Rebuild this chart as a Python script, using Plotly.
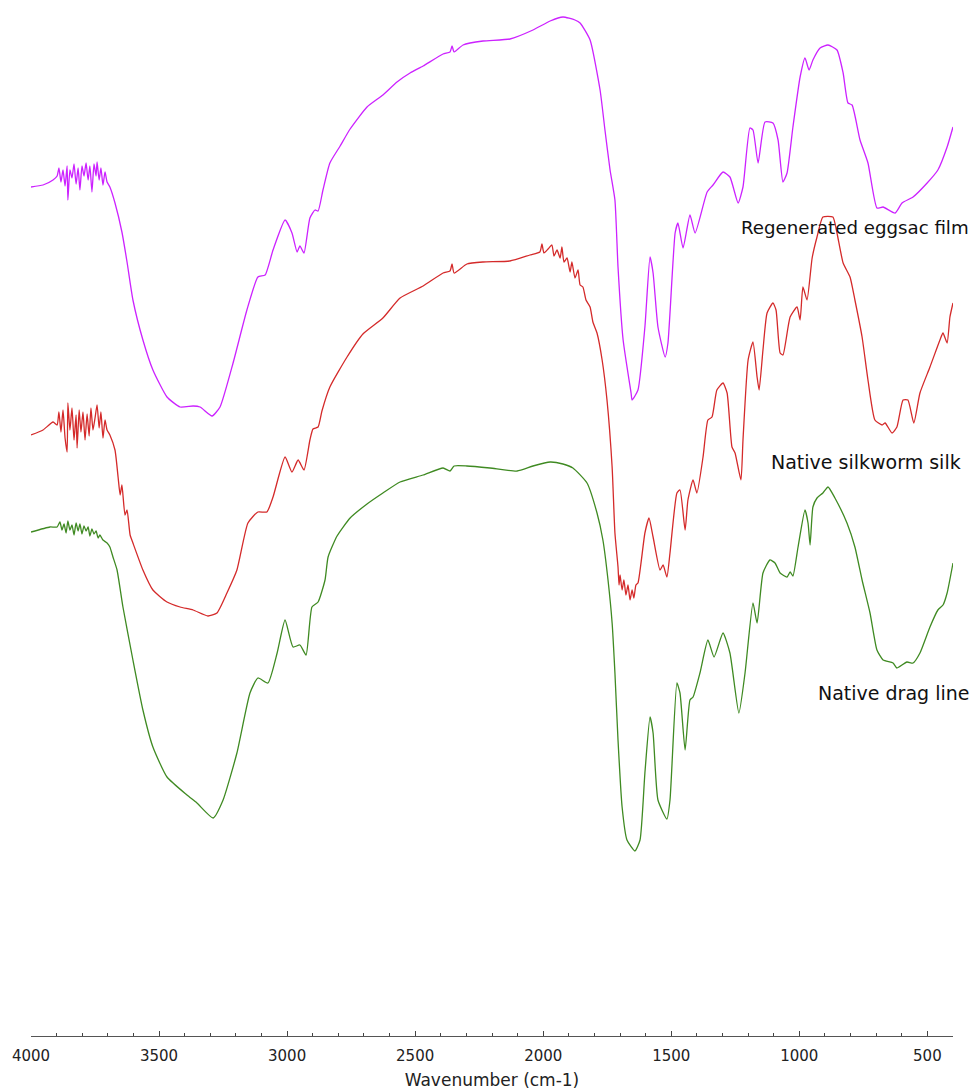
import plotly.graph_objects as go

# ---- Data (wavenumber in cm-1, transmittance in arbitrary offset units) ----
wn_eggsac = [4000,3953,3914,3898,3891,3883,3875,3867,3859,3856,3848,3840,3832,3824,3816,3809,3801,3793,3785,3777,3770,3762,3754,3746,3742,3734,3727,3719,3711,3703,3692,
             3672,3645,3625,3602,3563,3524,3469,3418,3367,3340,3293,3262,3211,3157,3114,3086,3055,3008,2981,2961,2950,2934,2911,2891,2879,2860,2833,
             2793,2754,2688,2626,2571,2520,2469,2391,2364,2356,2348,2313,2235,2130,2040,1973,1923,1876,1856,
             1817,1778,1759,1739,1720,
             1708,1688,1657,1653,1630,1603,1583,1571,1552,1524,1513,1485,1474,1454,1427,1407,
             1360,1337,1298,1271,1239,1220,1193,1181,1161,1134,1103,1083,1064,1048,1025,997,978,962,947,919,888,853,829,810,794,763,732,697,673,626,599,556,501,459,423,400]
t_eggsac = [84.9,85.1,85.6,86.0,86.8,85.4,86.6,85.0,87.0,83.6,86.6,85.8,87.2,85.2,86.8,84.6,87.0,86.0,87.3,85.6,87.0,84.4,87.2,86.0,87.4,85.6,86.8,85.1,86.4,85.4,84.9,
            83.3,80.4,77.4,73.6,69.6,66.6,63.9,62.9,63.0,62.9,62.0,62.9,67.3,72.6,75.9,76.1,78.6,81.6,80.3,78.4,79.0,78.3,81.8,82.6,82.5,84.6,87.3,
            89.0,90.7,92.9,94.1,95.4,96.3,97.0,98.2,98.4,99.0,98.4,99.1,99.5,99.7,100.6,101.5,101.9,101.6,101.3,
            99.6,94.6,90.6,86.6,83.6,
            76.9,69.6,64.3,63.6,64.6,70.9,77.9,76.3,70.9,67.9,69.3,80.3,81.3,78.8,82.1,80.3,
            84.4,85.1,86.4,85.9,83.3,84.9,90.8,90.6,87.3,91.4,91.3,89.6,85.4,86.3,90.9,95.9,97.8,96.6,97.6,98.8,99.1,98.6,96.3,93.3,93.1,89.6,87.3,82.8,82.9,82.3,83.3,83.9,85.3,86.6,88.9,90.9]

wn_silkworm = [4000,3953,3914,3898,3891,3883,3875,3867,3859,3856,3848,3840,3832,3824,3820,3812,3805,3797,3789,3781,3773,3766,3758,3750,3742,3734,3727,3719,3711,3703,3692,
               3672,3660,3652,3645,3633,3625,3613,3602,3563,3524,3469,3418,3367,3309,3274,3235,3196,3153,3114,3079,3055,3008,2981,2957,2934,2911,2899,2879,2864,2833,
               2766,2704,2626,2559,2469,2391,2364,2356,2348,2298,2235,2130,2052,
               2013,2005,1997,1981,1966,1958,1946,1934,1927,1919,1907,1895,1888,1876,1864,1856,1845,1833,1817,1806,1790,1770,1751,1731,1720,
               1708,1704,1700,1692,1685,1677,1669,1661,1653,1646,1638,1630,
               1603,1587,1571,1544,1532,1517,1505,1478,1466,1446,1435,1415,1400,1376,1357,1341,1322,1298,1282,1263,1251,1228,1220,
               1200,1181,1165,1157,1142,1126,1103,1091,1075,1064,1036,1009,997,986,970,950,931,908,869,853,829,802,783,755,732,705,677,665,638,619,595,576,553,529,490,451,439,423,412,400]
t_silkworm = [60.1,60.6,61.4,61.1,62.4,60.4,62.6,59.8,58.4,63.3,60.6,62.8,59.6,62.1,58.8,62.6,60.4,62.4,59.6,62.2,60.0,62.8,60.6,61.8,63.1,60.8,62.4,59.8,61.6,60.6,60.1,
              58.6,55.9,54.1,55.1,52.1,52.6,50.1,49.3,46.6,44.6,43.4,42.9,42.6,42.0,42.3,44.3,46.6,51.3,52.4,52.4,53.9,57.9,56.4,57.6,56.6,59.6,60.7,60.9,62.5,64.9,
              67.9,70.2,71.8,73.8,75.0,76.3,76.5,77.2,76.3,77.2,77.4,77.5,78.1,
              78.4,79.2,78.3,78.7,79.1,78.0,78.6,77.8,78.9,77.4,77.8,76.4,77.4,75.8,76.6,75.1,74.9,73.6,72.9,71.4,70.3,67.6,63.6,56.9,50.3,
              46.9,45.1,46.1,44.6,45.6,44.1,45.1,43.6,44.6,43.8,45.1,45.3,
              50.3,51.8,49.9,46.6,47.1,45.9,48.3,54.3,54.6,50.6,53.6,55.6,54.3,57.9,61.6,61.9,64.6,65.3,64.3,58.9,58.3,55.6,59.6,
              67.6,69.4,65.9,64.6,68.6,72.3,73.3,72.6,68.3,68.1,71.9,72.9,71.6,74.9,73.6,77.8,79.9,81.9,81.9,80.3,77.3,75.9,73.6,69.9,65.6,61.6,61.1,61.3,60.3,60.9,63.6,63.6,61.3,64.3,66.9,69.6,70.3,69.3,71.9,73.3]

wn_dragline = [4000,3926,3898,3887,3879,3871,3863,3856,3848,3840,3832,3824,3816,3809,3801,3793,3785,3777,3770,3762,3754,3746,3738,3731,3719,3703,
               3692,3680,3664,3641,3602,3563,3524,3469,3391,3352,3289,3250,3196,3145,3114,3075,3039,3008,2977,2950,2926,2903,2879,2852,2840,2805,
               2754,2688,2626,2559,2469,2391,2364,2348,2298,2208,2102,2040,1973,1923,1884,1829,1790,1767,1747,1731,1720,1708,1692,1673,1642,1622,
               1603,1583,1571,1552,1517,1505,1478,1466,1446,1427,1415,1388,1357,1333,1298,1271,1236,1212,1181,1165,1142,1115,1095,1075,1048,1036,1025,1005,
               978,966,958,947,931,908,888,861,814,783,755,724,697,673,634,619,580,556,529,490,459,439,423,400]
t_dragline = [50.4,50.9,50.9,51.4,50.6,51.2,50.3,51.5,50.6,51.1,50.1,51.3,50.5,51.2,50.2,51.0,50.5,50.9,50.0,50.7,50.2,50.5,49.8,50.1,49.6,49.3,
              48.9,47.9,46.6,42.9,37.6,32.6,28.9,25.9,24.1,23.3,21.8,23.6,28.3,34.3,35.8,35.3,38.3,41.6,38.9,39.1,38.1,42.9,43.4,45.6,47.9,50.0,
              51.8,53.2,54.3,55.4,56.1,56.8,56.5,57.0,57.0,56.8,56.5,57.0,57.4,57.2,56.8,55.3,52.3,49.6,45.6,41.3,36.3,29.6,22.9,19.6,18.5,19.6,
              26.3,31.9,30.3,23.6,21.7,23.6,35.3,34.3,28.6,33.6,33.9,36.3,39.6,37.9,40.3,38.3,32.3,36.3,43.3,41.3,46.3,47.6,47.3,46.3,45.9,46.4,46.0,48.9,
              52.6,51.3,49.1,52.9,53.8,54.3,54.9,53.8,51.3,48.9,45.6,42.3,38.6,37.6,37.3,36.8,37.4,37.3,38.3,40.9,42.6,43.1,44.3,47.3]

assert len(wn_eggsac) == len(t_eggsac)
assert len(wn_silkworm) == len(t_silkworm)
assert len(wn_dragline) == len(t_dragline)

labels = ["Regenerated eggsac film", "Native silkworm silk", "Native drag line"]
colors = ["#cc22ff", "#d42a2a", "#3f8a22"]
label_pos = [(1236, 80.9), (1118, 57.4), (935, 34.3)]
label_size = [18.2, 19, 19]

fig = go.Figure()
for name, x, y, color, (lx, ly), fs in zip(labels,
                                           [wn_eggsac, wn_silkworm, wn_dragline],
                                           [t_eggsac, t_silkworm, t_dragline],
                                           colors, label_pos, label_size):
    fig.add_trace(go.Scatter(x=x, y=y, mode="lines", name=name,
                             line=dict(color=color, width=1.3, shape="spline", smoothing=0.5),
                             hoverinfo="skip"))
    fig.add_annotation(x=lx, y=ly, text=name, showarrow=False, xanchor="left", yanchor="middle",
                       font=dict(family="DejaVu Sans", size=fs, color="#111111"))

fig.update_layout(
    width=978, height=1091,
    margin=dict(l=31, r=25, t=0, b=55, autoexpand=False),
    paper_bgcolor="white", plot_bgcolor="white",
    showlegend=False,
    xaxis=dict(
        range=[4000, 400], dtick=500, tick0=0,
        showgrid=False, zeroline=False,
        showline=True, linecolor="#555555", linewidth=1,
        ticks="inside", ticklen=5, tickcolor="#444444",
        minor=dict(dtick=100, ticks="inside", ticklen=3, tickcolor="#444444"),
        tickfont=dict(family="DejaVu Sans", size=15, color="#222222"),
        ticklabelstandoff=6,
        title=dict(text="Wavenumber (cm-1)", font=dict(family="DejaVu Sans", size=17, color="#222222"), standoff=10),
    ),
    yaxis=dict(range=[0, 103.6], visible=False),
)

fig.write_html("out.html", config={"displayModeBar": False},
               post_script="document.body.style.margin='0';document.body.style.overflow='hidden';")
